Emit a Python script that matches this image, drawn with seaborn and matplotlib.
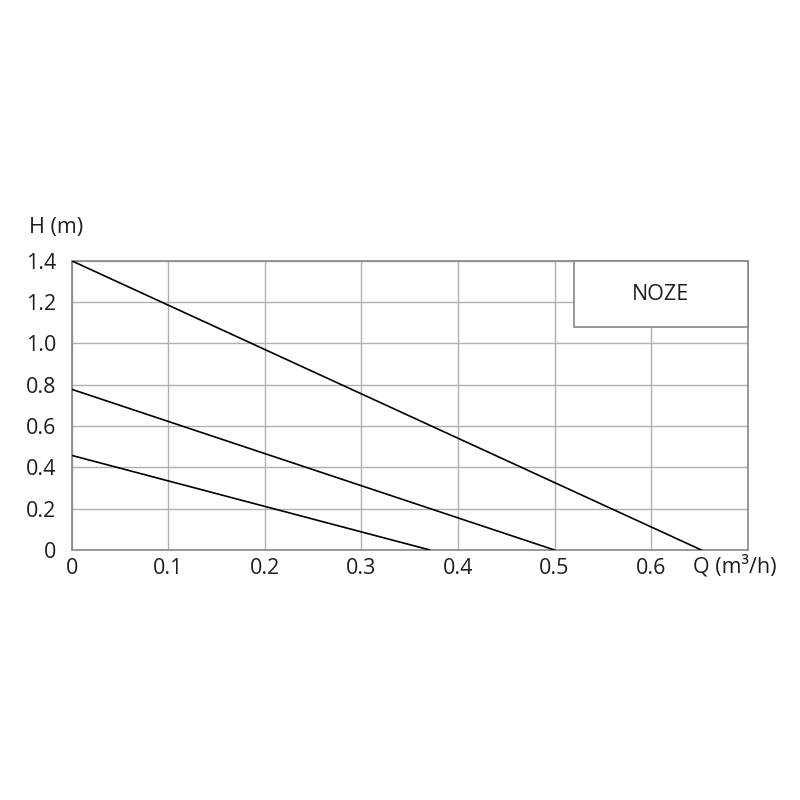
import matplotlib.pyplot as plt
import seaborn as sns
import pandas as pd
from matplotlib.patches import Rectangle

# pump curves (Q in m3/h, H in m)
curve_names = ['high', 'mid', 'low']
q_start = [0.0, 0.0, 0.0]
q_end = [0.652, 0.5, 0.371]
h_start = [1.4, 0.778, 0.458]
h_end = [0.0, 0.0, 0.0]

x_ticks = [0, 0.1, 0.2, 0.3, 0.4, 0.5, 0.6]
x_labels = ['0', '0.1', '0.2', '0.3', '0.4', '0.5', '0.6']
y_ticks = [0, 0.2, 0.4, 0.6, 0.8, 1.0, 1.2, 1.4]
y_labels = ['0', '0.2', '0.4', '0.6', '0.8', '1.0', '1.2', '1.4']

label_box = 'NOZE'
box_q = [0.52, 0.7]
box_h = [1.078, 1.4]

rows = []
for n, q0, q1, h0, h1 in zip(curve_names, q_start, q_end, h_start, h_end):
    rows.append({'curve': n, 'Q': q0, 'H': h0})
    rows.append({'curve': n, 'Q': q1, 'H': h1})
df = pd.DataFrame(rows)

sns.set_theme(style='white')
plt.rcParams['font.family'] = ['Open Sans', 'DejaVu Sans']

FS = 15.5
TXT = '#1e1e1e'

fig = plt.figure(figsize=(8, 8), dpi=100)
ax = fig.add_axes([0.0896, 0.3125, 0.845, 0.3615])

sns.lineplot(data=df, x='Q', y='H', units='curve', estimator=None,
             color='black', linewidth=1.2, ax=ax, zorder=3)

ax.set_xlim(0, 0.7)
ax.set_ylim(0, 1.4)
ax.set_xticks(x_ticks)
ax.set_xticklabels(x_labels)
ax.set_yticks(y_ticks)
ax.set_yticklabels(y_labels)
ax.grid(True, color='#b0b0b0', linewidth=1.0)
ax.set_axisbelow(True)
ax.tick_params(length=0, labelsize=FS, colors=TXT)
ax.tick_params(axis='x', pad=6)
ax.tick_params(axis='y', pad=11)
ax.set_xlabel('')
ax.set_ylabel('')
for s in ax.spines.values():
    s.set_color('#888888')
    s.set_linewidth(1.2)

# label box in the top right corner
ax.add_patch(Rectangle((box_q[0], box_h[0]), box_q[1] - box_q[0], box_h[1] - box_h[0],
                       facecolor='white', edgecolor='#888888', linewidth=1.2,
                       zorder=4, clip_on=False))
ax.text((box_q[0] + box_q[1]) / 2, (box_h[0] + box_h[1]) / 2, label_box,
        ha='center', va='center', fontsize=FS, color=TXT, zorder=5)

fig.text(0.036, 0.715, 'H (m)', fontsize=FS, color=TXT, va='center')
fig.text(0.866, 0.292, 'Q (m³/h)', fontsize=FS, color=TXT, va='center')

fig.savefig('out.png', dpi=100)
